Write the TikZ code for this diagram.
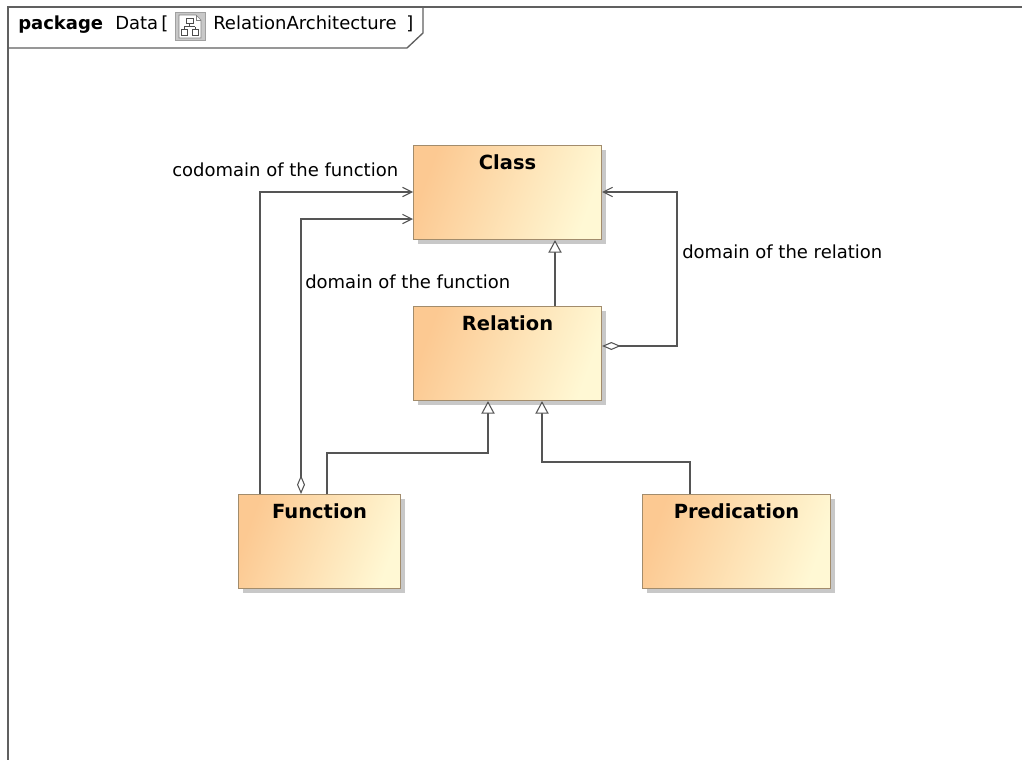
\documentclass[tikz,border=0pt]{standalone}
\usepackage{fontspec}
\setmainfont{DejaVu Sans}
\usetikzlibrary{arrows.meta,shadows,calc}
\definecolor{c1}{HTML}{FCC992}
\definecolor{c2}{HTML}{FFF8D4}
\definecolor{boxline}{HTML}{A28C6C}
\definecolor{linec}{HTML}{555555}
\definecolor{framec}{HTML}{606060}
\definecolor{shadowc}{HTML}{C8C8C8}
\definecolor{iconbg}{HTML}{C8C8C8}
\begin{document}
\begin{tikzpicture}[x=0.75pt,y=-0.75pt,
  every node/.style={font=\fontsize{13.5}{16}\selectfont},
  umlbox/.style={draw=boxline, line width=0.8pt, left color=c1, right color=c2, shading angle=70,
    anchor=north west, inner sep=0pt, minimum height=70.5pt,
    drop shadow={shadow xshift=3pt, shadow yshift=-3pt, fill=shadowc, opacity=1}},
  ttl/.style={font=\fontsize{14.6}{17}\selectfont\bfseries, anchor=base, inner sep=0pt},
  lbl/.style={anchor=base west, inner sep=0pt},
  conn/.style={draw=linec, line width=0.8pt},
  gen/.style={conn, -{Triangle[open, length=9.5pt, width=10pt, fill=white]}},
  nav/.style={conn, -{Straight Barb[length=7pt, width=7pt]}},
  agg/.style={conn, {Diamond[open, length=14pt, width=6pt, fill=white]}-{Straight Barb[length=7pt, width=7pt]}},
  frm/.style={draw=framec, line width=1pt}
]
\useasboundingbox[fill=white] (0,0) rectangle (1022,760);

% frame and tab
\draw[frm] (1022,7) -- (8,7) -- (8,760);
\draw[frm] (8,48) -- (407,48) -- (423,33) -- (423,7);
\node[lbl, font=\fontsize{13.5}{16}\selectfont\bfseries] (pkg) at (18,30) {package};
\node[lbl] (data) at (115,30) {Data};
\node[lbl] (lb) at (161,30) {[};
\node[anchor=north west, inner sep=0pt, minimum width=22.5pt, minimum height=21pt, fill=iconbg, draw=iconbg!80!black, line width=0.4pt] (icon) at (175,12) {};
\draw[draw=gray, fill=white, line width=0.4pt] (179,15) -- (196,15) -- (201,20) -- (201,38) -- (179,38) -- cycle;
\draw[draw=gray, line width=0.4pt] (196,15) -- (196,20) -- (201,20);
\draw[draw=black!70, line width=0.5pt] (186,18) rectangle (193,23) (189.5,23) -- (189.5,26.5) (184,26.5) -- (195,26.5) (184,26.5) -- (184,29) (195,26.5) -- (195,29) (181,29) rectangle (187,35) (192,29) rectangle (198,35);
\node[lbl] (ra) at (213,30) {RelationArchitecture};
\node[lbl] (rb) at (406,30) {]};

% classes
\node[umlbox, minimum width=141pt] (class) at (413,145) {};
\node[umlbox, minimum width=141pt] (rel) at (413,306) {};
\node[umlbox, minimum width=121.5pt] (func) at (238,494) {};
\node[umlbox, minimum width=141pt] (pred) at (642,494) {};

\node[ttl] (classT) at ($(class.north)+(0,24)$) {Class};
\node[ttl] (relT) at ($(rel.north)+(0,24)$) {Relation};
\node[ttl] (funcT) at ($(func.north)+(0,24)$) {Function};
\node[ttl] (predT) at ($(pred.north)+(0,24)$) {Predication};

% generalizations
\draw[gen] (rel.north -| 555,0) -- (class.south -| 555,0);
\draw[gen] (func.north -| 327,0) |- (488,453) -- (rel.south -| 488,0);
\draw[gen] (pred.north -| 690,0) |- (542,462) -- (rel.south -| 542,0);

% associations
\draw[nav] (func.north -| 260,0) |- (class.west |- 0,192);
\draw[agg] (func.north -| 301,0) |- (class.west |- 0,219);
\draw[agg] (rel.east |- 0,346) -- (677,346) |- (class.east |- 0,192);

% labels
\node[lbl] (l1) at (172,176) {codomain of the function};
\node[lbl] (l2) at (305,288) {domain of the function};
\node[lbl] (l3) at (682,258) {domain of the relation};
\end{tikzpicture}
\end{document}
